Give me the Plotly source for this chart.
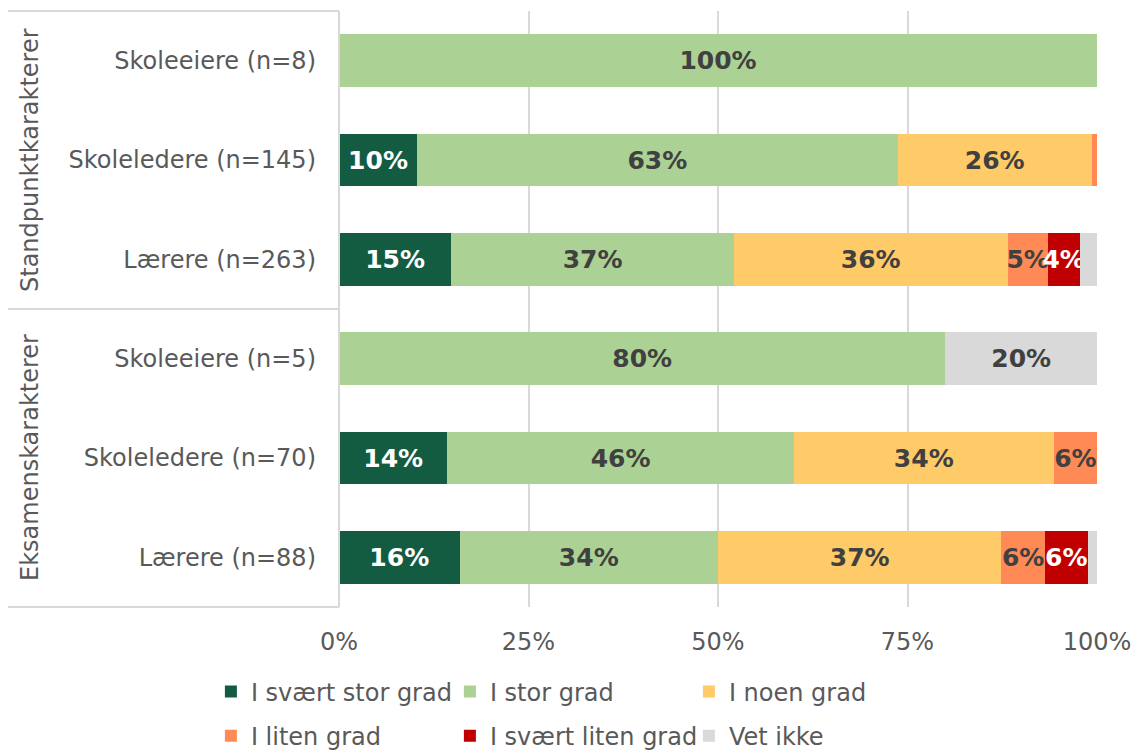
import plotly.graph_objects as go

categories = ["Skoleeiere (n=8)", "Skoleledere (n=145)", "Lærere (n=263)",
              "Skoleeiere (n=5)", "Skoleledere (n=70)", "Lærere (n=88)"]
groups = ["Standpunktkarakterer", "Eksamenskarakterer"]
series_names = ["I svært stor grad", "I stor grad", "I noen grad",
                "I liten grad", "I svært liten grad", "Vet ikke"]

svaert_stor = [0, 10.3, 14.8, 0, 14.3, 15.9]
stor = [100, 63.4, 37.3, 80, 45.7, 34.1]
noen = [0, 25.6, 36.1, 0, 34.3, 37.4]
liten = [0, 0.7, 5.3, 0, 5.7, 5.7]
svaert_liten = [0, 0, 4.2, 0, 0, 5.7]
vet_ikke = [0, 0, 2.3, 20, 0, 1.2]

tick_vals = [0, 25, 50, 75, 100]
tick_text = ["0%", "25%", "50%", "75%", "100%"]

colors = ["#135C41", "#ABD194", "#FFCA68", "#FF8A55", "#C00000", "#D9D9D9"]
label_colors = ["white", "#404040", "#404040", "#404040", "white", "#404040"]
all_series = [svaert_stor, stor, noen, liten, svaert_liten, vet_ikke]

FONT = "DejaVu Sans"
GREY = "#595959"

fig = go.Figure()
for i, (name, vals) in enumerate(zip(series_names, all_series)):
    txt = [f"{round(v)}%" if v >= 3 else "" for v in vals]
    fig.add_trace(go.Bar(
        y=categories, x=vals, name=name, orientation="h",
        marker=dict(color=colors[i], line=dict(width=0)),
        text=txt, texttemplate="%{text}", textposition="inside",
        insidetextanchor="middle", constraintext="none", textangle=0,
        textfont=dict(family=FONT, size=25, color=label_colors[i], weight="bold"),
        legend="legend" if i < 3 else "legend2",
        hoverinfo="skip",
    ))

fig.update_layout(
    barmode="stack",
    bargap=0.47,
    width=1135, height=751,
    margin=dict(l=339, r=38, t=11, b=144, autoexpand=False),
    paper_bgcolor="white", plot_bgcolor="white",
    font=dict(family=FONT, size=24, color=GREY),
    uniformtext=dict(minsize=25, mode="show"),
    xaxis=dict(range=[0, 100], tickvals=tick_vals, ticktext=tick_text,
               showgrid=True, gridcolor="#D9D9D9", gridwidth=2,
               zeroline=False, showline=False, ticks="",
               ticklabelstandoff=18,
               tickfont=dict(family=FONT, size=24, color=GREY)),
    yaxis=dict(categoryorder="array", categoryarray=categories,
               autorange="reversed", showgrid=False, zeroline=False,
               ticks="", ticklabelstandoff=22,
               tickfont=dict(family=FONT, size=24, color=GREY)),
    legend=dict(orientation="h", x=-0.169, xanchor="left", y=-0.1426,
                yanchor="middle", entrywidth=194, entrywidthmode="pixels",
                font=dict(family=FONT, size=24, color=GREY), traceorder="normal"),
    legend2=dict(orientation="h", x=-0.169, xanchor="left", y=-0.2165,
                 yanchor="middle", entrywidth=194, entrywidthmode="pixels",
                 font=dict(family=FONT, size=24, color=GREY), traceorder="normal"),
)

# frame lines of the grouped category axis
LINE = dict(color="#D9D9D9", width=2)
x_left = (8 - 339) / 758
for yy in [1, 0.5, 0]:
    fig.add_shape(type="line", xref="paper", yref="paper", x0=x_left, x1=0,
                  y0=yy, y1=yy, line=LINE)
fig.add_shape(type="line", xref="paper", yref="paper", x0=0, x1=0, y0=0, y1=1,
              line=LINE)

# group labels
for g, yc in zip(groups, [0.75, 0.25]):
    fig.add_annotation(text=g, xref="paper", yref="paper", x=(30 - 339) / 758, y=yc,
                       textangle=-90, showarrow=False, xanchor="center", yanchor="middle",
                       font=dict(family=FONT, size=24, color=GREY))

fig.write_html("out.html", config={"displayModeBar": False},
               post_script="document.body.style.margin='0';document.body.style.overflow='hidden';")
